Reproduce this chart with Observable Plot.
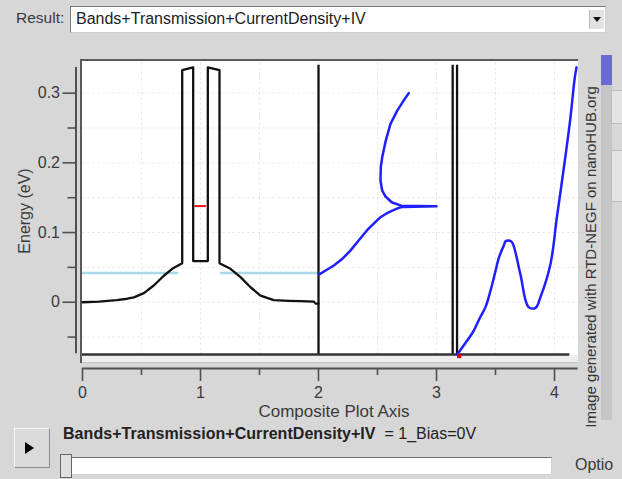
<!DOCTYPE html>
<html>
<head>
<meta charset="utf-8">
<script src="https://cdn.jsdelivr.net/npm/d3@7"></script>
<script src="https://cdn.jsdelivr.net/npm/@observablehq/plot@0.6"></script>
<style>
  html, body { margin: 0; padding: 0; }
  body { width: 622px; height: 479px; background: #d7d7d7; font-family: "Liberation Sans", Arial, sans-serif; color: #333; overflow: hidden; }
  #root { position: relative; width: 622px; height: 479px; }
  .abs { position: absolute; white-space: nowrap; }
  #result { left: 16px; top: 9px; font-size: 15.5px; line-height: 18px; color: #3a3a3a; }
  #combo { left: 70px; top: 6px; width: 536px; height: 27px; box-sizing: border-box; background: #fff;
           border: 1px solid; border-color: #777 #d0d0d0 #d0d0d0 #777; font-size: 16px; line-height: 24px; padding-left: 5px; color: #222; }
  #arrow { position: absolute; right: 1px; top: 3px; width: 14px; height: 19px; background: #e2e2e2; border-left: 1px solid #bbb; }
  #arrow::after { content: ""; position: absolute; left: 3px; top: 7px; border-left: 4px solid transparent; border-right: 4px solid transparent; border-top: 5px solid #111; }
  #plotbg { left: 80px; top: 59px; width: 498px; height: 304px; box-sizing: border-box; background: #fff;
            border-top: 2px solid #5a5a5a; border-left: 2px solid #5a5a5a; }
  #strip { position: absolute; left: 0; bottom: 0; width: 100%; height: 7px; background: #eeeeee; border-bottom: 1px solid #c4c4c4; }
  #chart { left: 0; top: 0; }
  #ylabel { left: 25px; top: 211px; font-size: 16px; transform: translate(-50%, -50%) rotate(-90deg); color: #3a3a3a; }
  #xlabel { left: 334px; top: 411px; font-size: 17px; line-height: 13px; transform: translate(-50%, -50%); color: #3a3a3a; }
  #vtext { left: 590px; top: 257px; font-size: 15px; transform: translate(-50%, -50%) rotate(-90deg); color: #333; }
  #scroll { left: 601px; top: 55px; width: 11px; height: 365px; background: #c6c6c6; }
  #thumb { position: absolute; left: 0; top: 0; width: 11px; height: 30px; background: #6a6ad6; }
  .side { left: 611px; width: 12px; background: #e4e4e4; border: 1px solid #bdbdbd; box-sizing: border-box; }
  #play { left: 14px; top: 428px; width: 36px; height: 40px; box-sizing: border-box; background: #dadada;
          border: 1px solid; border-color: #f6f6f6 #8a8a8a #8a8a8a #f6f6f6; }
  #play::after { content: ""; position: absolute; left: 10px; top: 13px; border-top: 6px solid transparent; border-bottom: 6px solid transparent; border-left: 9px solid #000; }
  #caption { left: 63px; top: 425px; font-size: 16px; line-height: 18px; color: #222; }
  #caption b { font-weight: bold; letter-spacing: 0.05px; }
  #slider { left: 60px; top: 457px; width: 492px; height: 18px; box-sizing: border-box; background: #fff;
            border: 1px solid; border-color: #6f6f6f #cfcfcf #cfcfcf #6f6f6f; }
  #handle { left: 60px; top: 454px; width: 12px; height: 24px; box-sizing: border-box; background: #e0e0e0; border: 1px solid #666; }
  #optio { left: 575px; top: 456px; font-size: 16px; line-height: 18px; color: #3a3a3a; }
</style>
</head>
<body>
<div id="root">
  <div class="abs" id="result">Result:</div>
  <div class="abs" id="combo">Bands+Transmission+CurrentDensity+IV<div id="arrow"></div></div>
  <div class="abs" id="plotbg"><div id="strip"></div></div>
  <div class="abs" id="chart"></div>
  <div class="abs" id="ylabel">Energy (eV)</div>
  <div class="abs" id="xlabel">Composite Plot Axis</div>
  <div class="abs" id="vtext">Image generated with RTD-NEGF on nanoHUB.org</div>
  <div class="abs" id="scroll"><div id="thumb"></div></div>
  <div class="abs side" style="top:90px;height:34px;"></div>
  <div class="abs side" style="top:150px;height:52px;"></div>
  <div class="abs" id="play"></div>
  <div class="abs" id="caption"><b>Bands+Transmission+CurrentDensity+IV</b> &nbsp;= 1_Bias=0V</div>
  <div class="abs" id="slider"></div>
  <div class="abs" id="handle"></div>
  <div class="abs" id="optio">Optio</div>
</div>
<script>
// ---- Data (composite axis position, energy in eV) ----
// Conduction band profile (composite axis 0..2)
const bandX = [0, 0.14, 0.29, 0.38, 0.435, 0.52, 0.604, 0.689, 0.76, 0.845, 0.845, 0.938, 0.938, 1.062, 1.062, 1.161, 1.161, 1.254, 1.339, 1.424, 1.508, 1.621, 1.75, 1.847, 1.96, 1.975, 2.0];
const bandE = [0, 0.001, 0.003, 0.005, 0.007, 0.013, 0.024, 0.038, 0.048, 0.056, 0.333, 0.337, 0.059, 0.059, 0.337, 0.333, 0.056, 0.048, 0.036, 0.0215, 0.0096, 0.003, 0.002, 0.0015, 0.001, -0.002, -0.002];
// Fermi level segments (outside the barrier region)
const fermiE = 0.042;
const fermiSegments = [[0, 0.816], [1.17, 2.0]];
// Resonant level inside the well
const resE = 0.138;
const resSpan = [0.952, 1.05];
// Transmission (composite axis 2..3) vs energy
const transT = [2.003, 2.06, 2.13, 2.2, 2.27, 2.34, 2.41, 2.47, 2.525, 2.58, 2.64, 2.68, 2.72, 3.0, 2.70, 2.62, 2.568, 2.54, 2.525, 2.528, 2.54, 2.57, 2.61, 2.667, 2.72, 2.765];
const transE = [0.0397, 0.0455, 0.0527, 0.062, 0.074, 0.0885, 0.103, 0.113, 0.122, 0.1277, 0.1325, 0.1354, 0.1368, 0.1377, 0.1386, 0.1435, 0.1517, 0.160, 0.1746, 0.194, 0.208, 0.232, 0.256, 0.275, 0.289, 0.30];
// I-V curve (composite axis ~3.2..4.2)
const ivX = [3.175, 3.26, 3.316, 3.37, 3.415, 3.458, 3.494, 3.53, 3.57, 3.585, 3.614, 3.64, 3.71, 3.78, 3.84, 3.88, 3.966, 4.02, 4.08, 4.135, 4.17, 4.186];
const ivY = [-0.075, -0.055, -0.0406, -0.0215, -0.007, 0.0168, 0.0407, 0.0646, 0.0813, 0.0875, 0.0885, 0.086, 0.0407, -0.007, -0.008, 0.007, 0.055, 0.122, 0.194, 0.265, 0.32, 0.337];
// Panel separators and frame
const dividers = [2, 3.137, 3.174];
const baseE = -0.075;
const topE = 0.34;
const baseSpan = [0, 4.13];
// Ticks
const yMajor = [0, 0.1, 0.2, 0.3];
const yMinor = [-0.05, 0.05, 0.15, 0.25];
const xMajor = [0, 1, 2, 3, 4];
const xMinor = [0.5, 1.5, 2.5, 3.5];
const yGrid = [-0.05, 0, 0.05, 0.1, 0.15, 0.2, 0.25, 0.3];
const xGrid = [0.5, 1, 1.5, 2, 2.5, 3, 3.5, 4];

const band = bandX.map((x, i) => ({x, e: bandE[i]}));
const trans = transT.map((x, i) => ({x, e: transE[i]}));
const iv = ivX.map((x, i) => ({x, e: ivY[i]}));

const axisGray = "#505050";
const chart = Plot.plot({
  width: 622,
  height: 420,
  marginLeft: 82,
  marginRight: 37.3,
  marginTop: 62,
  marginBottom: 66,
  x: {domain: [0, 4.26]},
  y: {domain: [-0.075, 0.344]},
  style: {background: "transparent", fontFamily: "'Liberation Sans', Arial, sans-serif", fontSize: "16px", color: "#3a3a3a", overflow: "visible"},
  marks: [
    Plot.gridY(yGrid, {stroke: "#c8c8c8", strokeOpacity: 0.35, strokeDasharray: "3,2"}),
    Plot.gridX(xGrid, {stroke: "#c8c8c8", strokeOpacity: 0.35, strokeDasharray: "3,2"}),
    // y axis (offset to the left of the frame)
    Plot.axisY({ticks: yMajor, anchor: "left", tickSize: 13, tickPadding: 3, dx: -6.5, tickFormat: d => String(d), stroke: axisGray, strokeWidth: 1.6, fill: "#3a3a3a", label: null}),
    Plot.axisY({ticks: yMinor, anchor: "left", tickSize: 8, dx: -6.5, tickFormat: () => "", stroke: axisGray, strokeWidth: 1.6, label: null}),
    Plot.ruleX([0], {y1: () => -0.074, y2: () => 0.337, dx: -6.5, stroke: axisGray, strokeWidth: 2}),
    // x axis (offset below the frame): tick marks, then labels
    Plot.axisX({ticks: xMajor, anchor: "bottom", tickSize: 13, dy: 14, text: null, tickFormat: () => "", stroke: axisGray, strokeWidth: 1.6, label: null}),
    Plot.axisX({ticks: xMinor, anchor: "bottom", tickSize: 7, dy: 14, text: null, tickFormat: () => "", stroke: axisGray, strokeWidth: 1.6, label: null}),
    Plot.axisX({ticks: xMajor, anchor: "bottom", tickSize: 0, tickPadding: 32, tickFormat: d => String(d), fill: "#3a3a3a", label: null}),
    Plot.ruleY([baseE], {x1: () => 0, x2: () => 4.2, dy: 14, stroke: axisGray, strokeWidth: 2}),
    // Fermi level
    Plot.ruleY(fermiSegments, {y: () => fermiE, x1: d => d[0], x2: d => d[1], stroke: "#a9d9e6", strokeWidth: 2.5}),
    // band profile
    Plot.line(band, {x: "x", y: "e", stroke: "#111", strokeWidth: 2.3}),
    // resonant level
    Plot.ruleY([resE], {x1: () => resSpan[0], x2: () => resSpan[1], stroke: "#ee1111", strokeWidth: 2}),
    // separators and base line
    Plot.ruleX(dividers, {y1: () => baseE, y2: () => topE, stroke: "#111", strokeWidth: 2.3}),
    Plot.ruleY([baseE], {x1: () => baseSpan[0], x2: () => baseSpan[1], stroke: "#333", strokeWidth: 2.6}),
    // transmission
    Plot.line(trans, {x: "x", y: "e", stroke: "#1f1fff", strokeWidth: 2.5, strokeLinejoin: "round"}),
    // I-V
    Plot.line(iv, {x: "x", y: "e", stroke: "#1f1fff", strokeWidth: 2.5, strokeLinejoin: "round", curve: "catmull-rom"}),
    // current bias point
    Plot.dot([0], {x: () => ivX[0], y: () => ivY[0], dx: 2, dy: 1.5, symbol: "square", r: 2.4, fill: "#e00000", stroke: null})
  ]
});
document.getElementById("chart").appendChild(chart);
</script>
</body>
</html>
